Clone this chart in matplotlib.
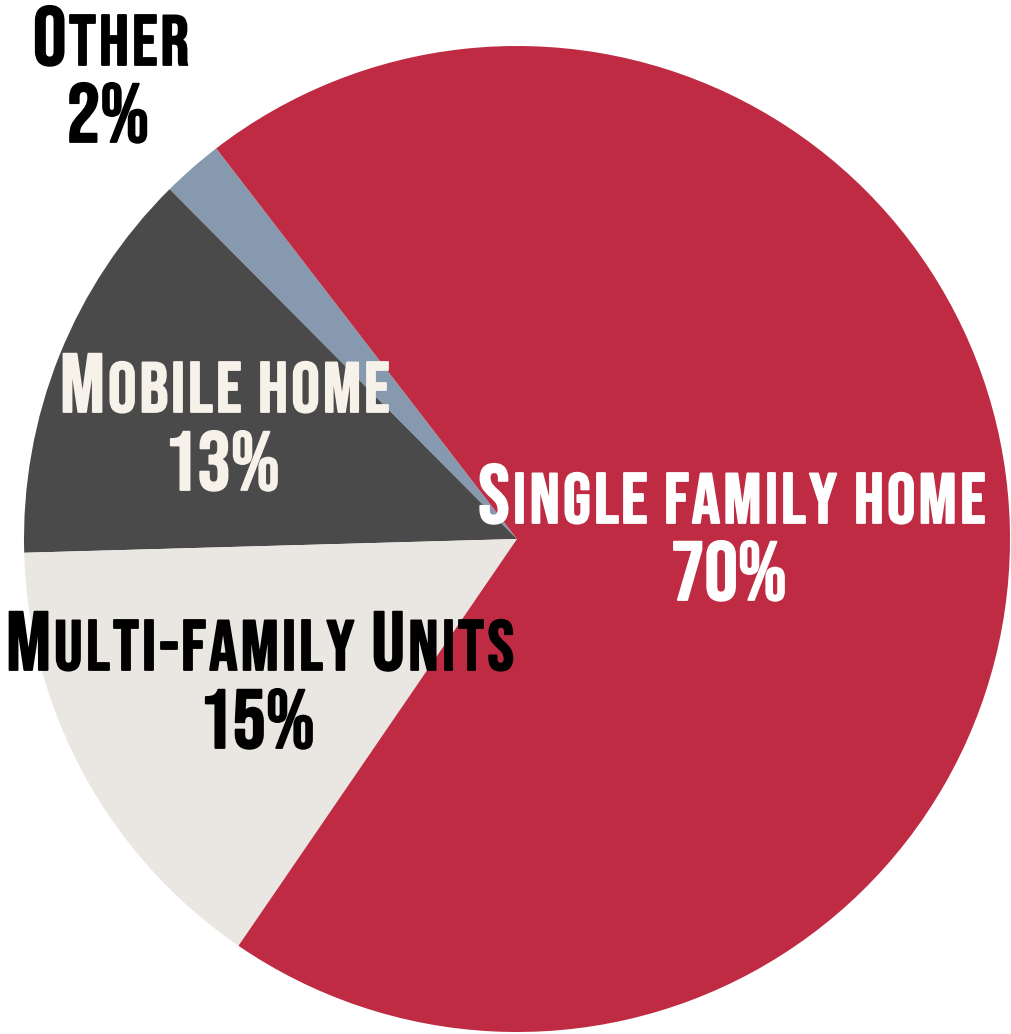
import matplotlib
matplotlib.use("Agg")
import matplotlib.pyplot as plt
import matplotlib.patheffects as pe
from matplotlib.transforms import IdentityTransform

# data
categories = ["Other", "Mobile home", "Multi-family Units", "Single family home"]
shares = [2, 13, 15, 70]
pct_labels = ["2%", "13%", "15%", "70%"]
colors = ["#8799ae", "#4a4a4a", "#eae7e2", "#be2b42"]
text_colors = ["#000000", "#f6f2ea", "#000000", "#ffffff"]

# label anchor: centre x, baseline of name, baseline of percent (pixels from top-left)
label_pos = [(111, 65, 142), (225, 412, 490), (260, 670, 748), (732, 523, 600)]

W, H = 1011, 1034
FONT = "Bebas Neue"
BIG, SMALL = 60, 51
CHAR_GAP, WORD_GAP = 3.2, 17

fig = plt.figure(figsize=(W / 100, H / 100), dpi=100)
ax = fig.add_axes([0, 0, 1, 1])
ax.pie(shares, colors=colors, startangle=127.6, counterclock=True,
       center=(517, H - 539), radius=493, wedgeprops=dict(linewidth=0))
ax.set_xlim(0, W)
ax.set_ylim(0, H)
ax.axis("off")

renderer = fig.canvas.get_renderer()


def bold(color):
    return [pe.withStroke(linewidth=1.3, foreground=color)]


def small_caps(text, cx, base, color):
    # fake small caps: capitals big, lower case drawn as smaller capitals,
    # one glyph at a time so the tracking can be opened up a little
    arts = []
    x = 0
    prev_space = False
    for ch in text:
        if ch == " ":
            prev_space = True
            continue
        size = SMALL if (ch.islower() or ch == "-") else BIG
        t = fig.text(0, 0, ch.upper(), fontsize=size, family=FONT, color=color,
                     ha="left", va="baseline", transform=IdentityTransform(),
                     path_effects=bold(color))
        w = t.get_window_extent(renderer).width
        if arts:
            x += WORD_GAP if prev_space else CHAR_GAP
        arts.append((t, x))
        x += w
        prev_space = False
    x0 = cx - x / 2
    for t, off in arts:
        t.set_position((x0 + off, H - base))


for name, pct, tc, (cx, b1, b2) in zip(categories, pct_labels, text_colors, label_pos):
    small_caps(name, cx, b1, tc)
    fig.text(cx - 3, H - b2, pct, fontsize=BIG, family=FONT, color=tc,
             ha="center", va="baseline", transform=IdentityTransform(),
             path_effects=bold(tc))

fig.savefig("out.png", dpi=100)
